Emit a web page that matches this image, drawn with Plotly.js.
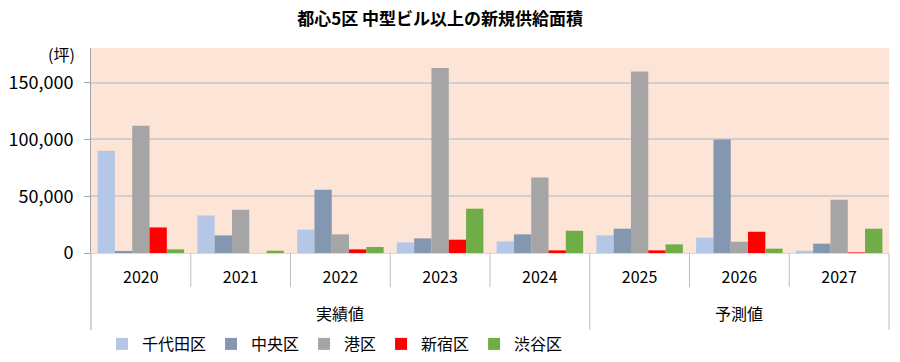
<!DOCTYPE html>
<html>
<head>
<meta charset="utf-8">
<script src="https://cdn.plot.ly/plotly-3.0.1.min.js"></script>
<style>html,body{margin:0;padding:0;background:#fff;}#chart{width:900px;height:362px;}</style>
</head>
<body>
<div id="chart"></div>
<script>
// ---- data ----
var groups = ["実績値","実績値","実績値","実績値","実績値","予測値","予測値","予測値"];
var years  = ["2020","2021","2022","2023","2024","2025","2026","2027"];
var seriesNames = ["千代田区","中央区","港区","新宿区","渋谷区"];
var chiyoda = [90000, 33000, 20500, 9300, 10200, 15500, 13500, 2000];
var chuo    = [1800, 15500, 55700, 12900, 16400, 21400, 100000, 8200];
var minato  = [112000, 38000, 16400, 162800, 66500, 159900, 9900, 46900];
var shinjuku= [22500, 0, 3200, 11700, 2300, 2300, 18700, 500];
var shibuya = [3200, 2000, 5300, 39000, 19600, 7600, 3800, 21400];
var colors = ["#B4C7E7","#8497B0","#A5A5A5","#FF0000","#70AD47"];
var values = [chiyoda, chuo, minato, shinjuku, shibuya];

var font = "'Noto Sans CJK JP', 'Noto Sans', sans-serif";
var lineCol = '#BFBFBF';

var traces = seriesNames.map(function(n, i){
  return {
    type: 'bar',
    name: n,
    x: years,
    y: values[i],
    marker: {color: colors[i], line: {width: 0}},
    hoverinfo: 'skip'
  };
});

// group spans derived from the groups array
var n = years.length;
var spans = [];
groups.forEach(function(g, i){
  if (!spans.length || spans[spans.length-1].name !== g) spans.push({name: g, start: i, end: i+1});
  else spans[spans.length-1].end = i+1;
});

var yearSepBottom = -34/205;   // year separator depth (paper units)
var groupSepBottom = -77/205;  // group divider depth
var shapes = [];
for (var i = 1; i < n; i++) {
  var isGroupEdge = spans.some(function(s){ return s.start === i; });
  if (!isGroupEdge) {
    shapes.push({type:'line', xref:'paper', yref:'paper', x0:i/n, x1:i/n, y0:0, y1:yearSepBottom,
                 line:{color:lineCol, width:1}});
  }
}
var edges = [0];
spans.forEach(function(s){ edges.push(s.end); });
edges.forEach(function(e){
  shapes.push({type:'line', xref:'paper', yref:'paper', x0:e/n, x1:e/n, y0:0, y1:groupSepBottom,
               line:{color: (e===0 ? '#A6A6A6' : lineCol), width:1}});
});

var annotations = spans.map(function(s){
  return {text: s.name, xref:'paper', yref:'paper', x:(s.start+s.end)/2/n, y:-60/205,
          xanchor:'center', yanchor:'middle', showarrow:false,
          font:{family:font, size:16, color:'#000000'}};
});
annotations.push({
  text: '(坪)', xref: 'paper', yref: 'paper',
  x: -0.018, y: 0.971, xanchor: 'right', yanchor: 'middle',
  showarrow: false,
  font: {family: font, size: 16, color: '#000000'}
});

var layout = {
  width: 900, height: 362,
  margin: {l: 91, r: 11, t: 48, b: 109},
  paper_bgcolor: '#FFFFFF',
  plot_bgcolor: '#FCE4D6',
  font: {family: font, size: 16, color: '#000000'},
  barmode: 'group',
  bargap: 0.133,
  bargroupgap: 0,
  title: {
    text: '<b>都心5区 中型ビル以上の新規供給面積</b>',
    font: {family: font, size: 17, color: '#000000'},
    x: 0.489, xanchor: 'center', xref: 'container',
    y: 0.9475, yanchor: 'middle', yref: 'container'
  },
  xaxis: {
    type: 'category',
    automargin: false,
    showgrid: false,
    showline: true, linecolor: '#D9D9D9', linewidth: 1,
    ticks: '',
    ticklabelstandoff: 10,
    tickfont: {family: font, size: 16, color: '#000000'}
  },
  yaxis: {
    automargin: false,
    range: [0, 180500],
    dtick: 50000,
    tickformat: ',d',
    showgrid: true, gridcolor: '#D0CECE', gridwidth: 2,
    zeroline: false,
    showline: true, linecolor: '#A6A6A6', linewidth: 1,
    ticks: 'outside', ticklen: 6, tickcolor: '#A6A6A6',
    ticklabelstandoff: 7,
    tickfont: {family: font, size: 18, color: '#000000'}
  },
  legend: {
    orientation: 'h',
    xref: 'paper', x: 0.0138, xanchor: 'left',
    yref: 'container', y: 0.0497, yanchor: 'middle',
    font: {family: font, size: 16, color: '#000000'},
    itemwidth: 30,
    bgcolor: 'rgba(0,0,0,0)'
  },
  shapes: shapes,
  annotations: annotations
};

Plotly.newPlot('chart', traces, layout, {displayModeBar: false, staticPlot: true});
</script>
</body>
</html>
